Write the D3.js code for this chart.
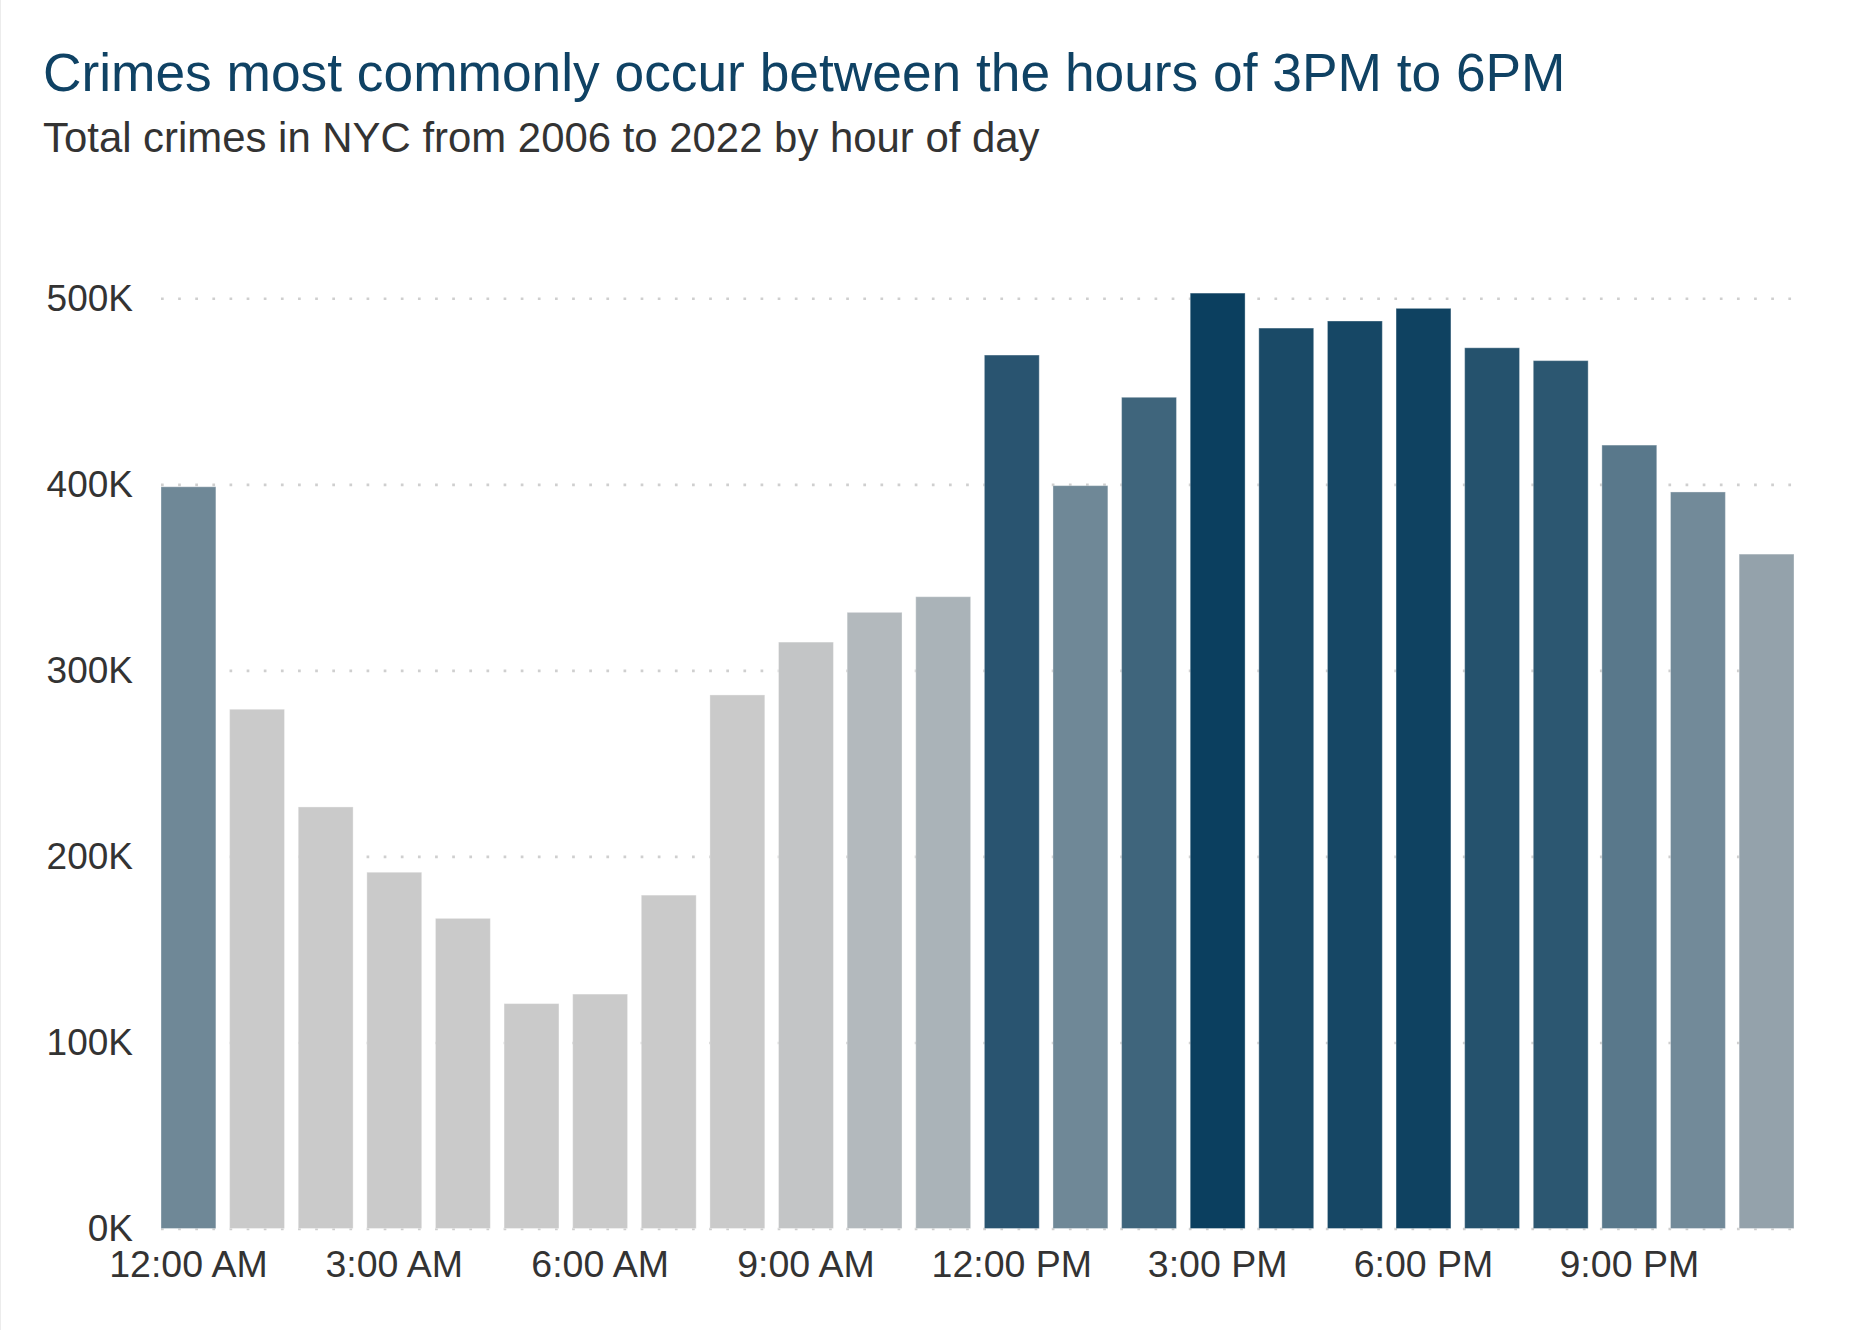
<!DOCTYPE html>
<html>
<head>
<meta charset="utf-8">
<script src="https://cdn.jsdelivr.net/npm/d3@7"></script>
<style>
  html, body { margin: 0; padding: 0; background: #ffffff; }
  svg { display: block; }
  text { font-family: "Liberation Sans", Arial, sans-serif; }
</style>
</head>
<body>
<svg id="chart" width="1875" height="1330"></svg>
<script>
// ---- Data ----
const hours = ["12:00 AM","1:00 AM","2:00 AM","3:00 AM","4:00 AM","5:00 AM","6:00 AM","7:00 AM","8:00 AM","9:00 AM","10:00 AM","11:00 AM",
               "12:00 PM","1:00 PM","2:00 PM","3:00 PM","4:00 PM","5:00 PM","6:00 PM","7:00 PM","8:00 PM","9:00 PM","10:00 PM","11:00 PM"];
const crimes = [398700, 279100, 226600, 191500, 166700, 120900, 126000, 179200, 286800, 315200, 331200, 339600,
                469500, 399300, 446800, 502800, 484000, 487800, 494600, 473400, 466500, 421100, 395900, 362500];
const yTicks = [0, 100000, 200000, 300000, 400000, 500000];
const xTickLabels = ["12:00 AM","3:00 AM","6:00 AM","9:00 AM","12:00 PM","3:00 PM","6:00 PM","9:00 PM"];
const titleText = "Crimes most commonly occur between the hours of 3PM to 6PM";
const subtitleText = "Total crimes in NYC from 2006 to 2022 by hour of day";

// ---- Layout ----
const svg = d3.select("#chart");
const plotLeft = 161, plotRight = 1794, plotTop = 298.3, plotBottom = 1228.5;

svg.append("line")
  .attr("x1", 0.5).attr("x2", 0.5).attr("y1", 0).attr("y2", 1330)
  .attr("stroke", "#ececec").attr("stroke-width", 1);

svg.append("text")
  .attr("x", 43).attr("y", 91)
  .attr("font-size", 53.3).attr("fill", "#0f4264")
  .text(titleText);

svg.append("text")
  .attr("x", 43).attr("y", 152)
  .attr("font-size", 41.9).attr("fill", "#333333")
  .text(subtitleText);

const x = d3.scaleBand().domain(hours).range([plotLeft, plotRight]).paddingInner(0.2).paddingOuter(0);
const y = d3.scaleLinear().domain([0, 500000]).range([plotBottom, plotTop]);
const color = d3.scaleLinear().domain([308000, 499000]).range(["#cacaca", "#0b3f5f"]).clamp(true);

// Y axis with dotted gridlines
const yAxis = svg.append("g")
  .attr("transform", `translate(${plotLeft},0)`)
  .call(d3.axisLeft(y).tickValues(yTicks)
    .tickFormat(d => (d / 1000) + "K")
    .tickSizeInner(-(plotRight - plotLeft)).tickSizeOuter(0).tickPadding(28));
yAxis.select(".domain").remove();
yAxis.selectAll(".tick line")
  .attr("stroke", "#cfcfcf").attr("stroke-width", 2.6)
  .attr("stroke-dasharray", "2.7,14.43");
yAxis.selectAll(".tick text")
  .attr("font-size", 37).attr("fill", "#333333")
  .attr("font-family", "Liberation Sans, Arial, sans-serif");

// Bars
svg.append("g").selectAll("rect")
  .data(hours)
  .join("rect")
  .attr("x", d => x(d))
  .attr("width", x.bandwidth())
  .attr("y", (d, i) => y(crimes[i]))
  .attr("height", (d, i) => y(0) - y(crimes[i]))
  .attr("fill", (d, i) => color(crimes[i]))
  .attr("stroke", "rgba(255,255,255,0.35)")
  .attr("stroke-width", 1);

// X axis
const xAxis = svg.append("g")
  .attr("transform", `translate(0,${plotBottom})`)
  .call(d3.axisBottom(x).tickValues(xTickLabels).tickSize(0).tickPadding(22));
xAxis.select(".domain").remove();
xAxis.selectAll(".tick text")
  .attr("font-size", 37.5).attr("fill", "#333333")
  .attr("font-family", "Liberation Sans, Arial, sans-serif");
</script>
</body>
</html>
